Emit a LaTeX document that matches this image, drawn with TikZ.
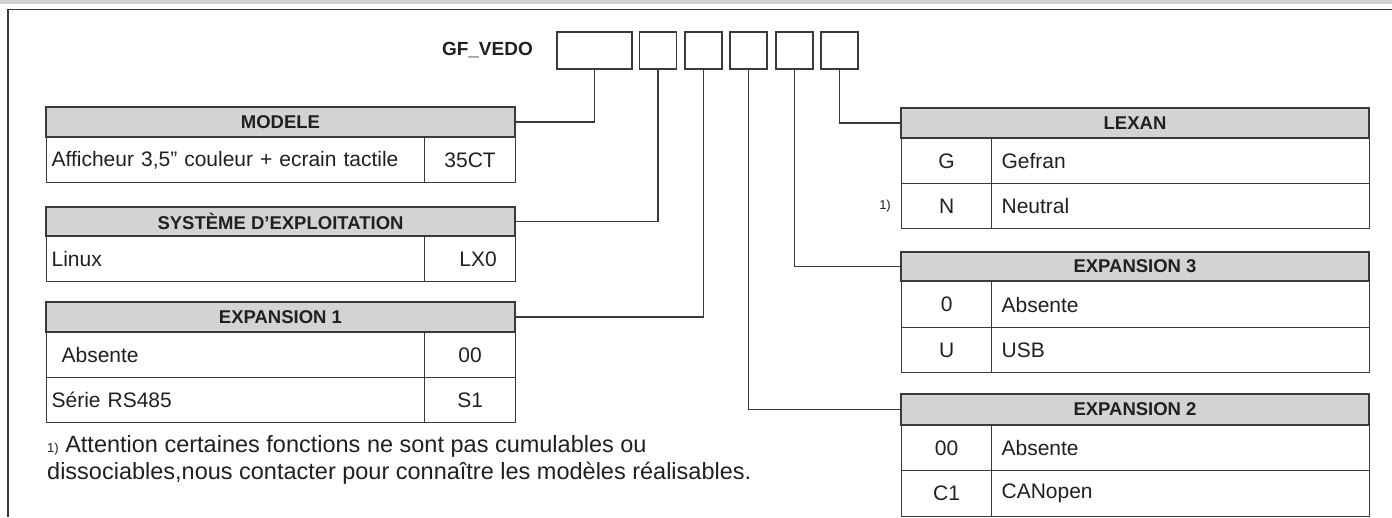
\documentclass[tikz,border=0pt]{standalone}
\usepackage{fontspec}
\setmainfont{Liberation Sans}
\definecolor{ink}{HTML}{231F20}
\definecolor{lc}{HTML}{3A3A3A}
\definecolor{hdrgray}{HTML}{D1D3D4}
\definecolor{topgray}{HTML}{D0D0D0}
\begin{document}
\begin{tikzpicture}[x=1pt,y=-1pt,
  every node/.style={text=ink},
  hdr/.style={draw=lc, line width=1.2pt, fill=hdrgray, minimum height=30pt, inner sep=0pt, font=\bfseries\fontsize{18.5}{21}\selectfont},
  lwide/.style={draw=lc, line width=1.2pt, anchor=north west, minimum height=45pt, inner xsep=5pt, inner ysep=0pt, text width=368pt, align=left, font=\fontsize{21}{24}\selectfont},
  lcode/.style={draw=lc, line width=1.2pt, anchor=north west, minimum height=45pt, inner xsep=0pt, inner ysep=0pt, text width=91pt, align=center, font=\fontsize{21}{24}\selectfont},
  rcode/.style={draw=lc, line width=1.2pt, anchor=north west, minimum height=45pt, inner xsep=0pt, inner ysep=0pt, text width=90pt, align=center, font=\fontsize{21}{24}\selectfont},
  rwide/.style={draw=lc, line width=1.2pt, anchor=north west, minimum height=45pt, inner xsep=10pt, inner ysep=0pt, text width=358pt, align=left, font=\fontsize{21}{24}\selectfont},
  codebox/.style={draw=lc, line width=1.2pt, minimum height=37pt, inner sep=0pt},
  conn/.style={draw=lc, line width=1.3pt},
  fnote/.style={anchor=base west, font=\fontsize{23.5}{26}\selectfont, inner sep=0pt}
]
\useasboundingbox (0,0) rectangle (1392,517);
% frame
\fill[topgray] (0,0) rectangle (1392,3.5);
\draw[lc, line width=1.2pt] (8,517) -- (8,9.5) -- (1392,9.5);

% code boxes
\node[font=\bfseries\fontsize{19}{21}\selectfont, anchor=east, inner sep=0pt] (gf) at (533,50) {GF\_VEDO};
\node[codebox, minimum width=75pt] (b1) at (594.5,50.5) {};
\node[codebox, minimum width=37pt] (b2) at (658,50.5) {};
\node[codebox, minimum width=37pt] (b3) at (703.5,50.5) {};
\node[codebox, minimum width=37pt] (b4) at (748.5,50.5) {};
\node[codebox, minimum width=37pt] (b5) at (794.5,50.5) {};
\node[codebox, minimum width=37pt] (b6) at (839.5,50.5) {};

% MODELE
\node[hdr, minimum width=469pt] (hmod) at (280.5,122) {MODELE};
\node[lwide] (mod1) at (46,137) {Afficheur 3,5'' couleur + ecrain tactile};
\node[lcode] (mod1c) at (424,137) {35CT};

% SYSTEME
\node[hdr, minimum width=469pt, minimum height=29pt] (hsys) at (280.5,221.5) {SYSTÈME D’EXPLOITATION};
\node[lwide] (sys1) at (46,236) {Linux};
\node[lcode] (sys1c) at (424,236) {\hspace*{16pt}LX0};

% EXPANSION 1
\node[hdr, minimum width=469pt] (hex1) at (280.5,317) {EXPANSION 1};
\node[lwide] (ex11) at (46,332) {\hspace*{10pt}Absente};
\node[lcode] (ex11c) at (424,332) {00};
\node[lwide] (ex12) at (46,377) {Série RS485};
\node[lcode] (ex12c) at (424,377) {S1};

% footnote
\node[fnote] (fn1) at (47,452) {{\fontsize{13}{15}\selectfont 1)} Attention certaines fonctions ne sont pas cumulables ou};
\node[fnote] (fn2) at (47,479) {dissociables,nous contacter pour connaître les modèles réalisables.};

% LEXAN
\node[hdr, minimum width=468pt] (hlex) at (1135,123) {LEXAN};
\node[rcode] (lex1c) at (901,138) {G};
\node[rwide] (lex1) at (991,138) {Gefran};
\node[rcode] (lex2c) at (901,183) {N};
\node[rwide] (lex2) at (991,183) {Neutral};
\node[font=\fontsize{13}{15}\selectfont, anchor=east, inner sep=0pt] (fnref) at (891,206) {1)};

% EXPANSION 3
\node[hdr, minimum width=468pt, minimum height=29pt] (hex3) at (1135,266.5) {EXPANSION 3};
\node[rcode, minimum height=46pt] (ex31c) at (901,281) {0};
\node[rwide, minimum height=46pt] (ex31) at (991,281) {Absente};
\node[rcode] (ex32c) at (901,327) {U};
\node[rwide] (ex32) at (991,327) {USB};

% EXPANSION 2
\node[hdr, minimum width=468pt, minimum height=31pt] (hex2) at (1135,409.5) {EXPANSION 2};
\node[rcode] (ex21c) at (901,425) {00};
\node[rwide] (ex21) at (991,425) {Absente};
\node[rcode, minimum height=46pt] (ex22c) at (901,470) {C1};
\node[rwide, minimum height=46pt] (ex22) at (991,470) {CANopen};

% connectors
\draw[conn] (b1.south) |- (hmod.east);
\draw[conn] (b2.south) |- (hsys.east);
\draw[conn] (b3.south) |- (hex1.east);
\draw[conn] (b4.south) |- (hex2.west);
\draw[conn] (b5.south) |- (hex3.west);
\draw[conn] (b6.south) |- (hlex.west);
\end{tikzpicture}
\end{document}
